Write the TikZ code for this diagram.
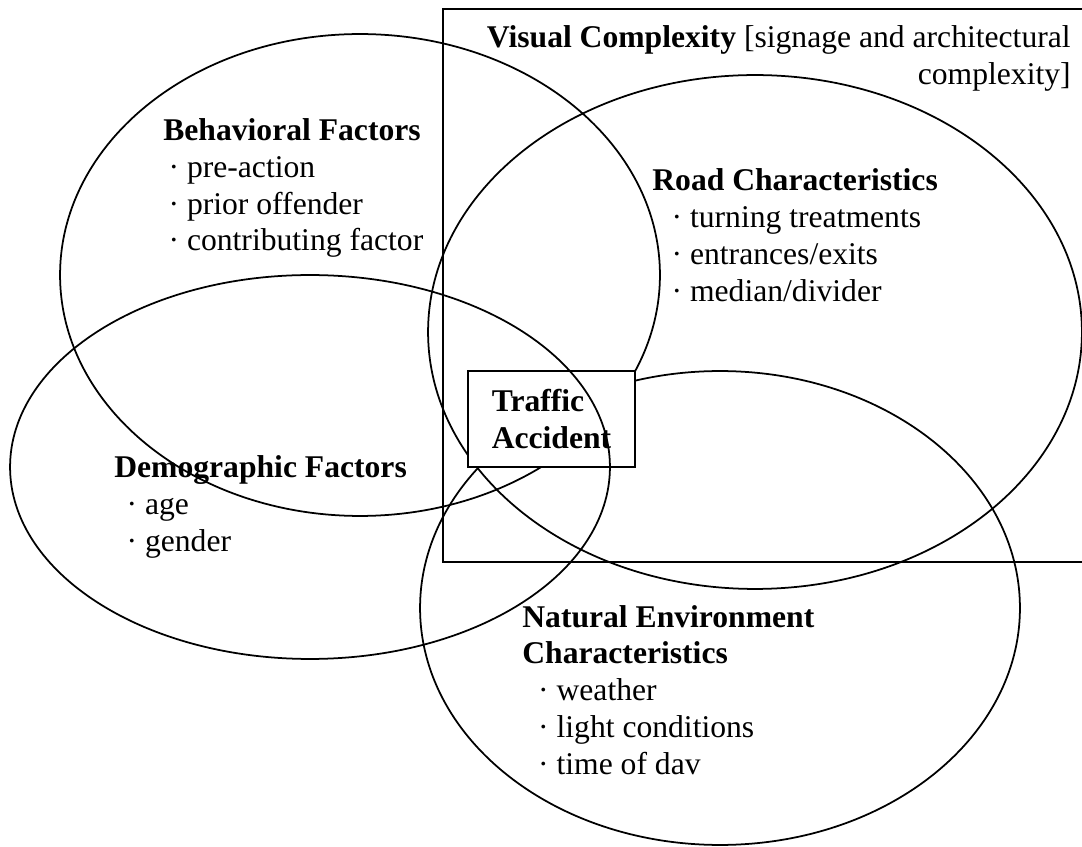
\documentclass[tikz,border=0pt]{standalone}
\usepackage{fontspec}
\setmainfont{Liberation Serif}
\usepackage{tikz}
\usetikzlibrary{shapes.geometric}

\begin{document}
\begin{tikzpicture}[x=0.02cm, y=-0.02cm, font=\fontsize{18}{21}\selectfont]
                \tikzstyle{venn} = [ellipse, draw=black, line width=1pt, inner sep=0pt]
                \tikzstyle{factor} = [anchor=west, align=left, inner sep=0pt]
                \tikzstyle{hub} = [rectangle, draw=black, line width=1.3pt, fill=white, minimum width=3.34cm, minimum height=1.92cm, align=left, font=\fontsize{18}{21}\selectfont\bfseries]
                \useasboundingbox (0,0) rectangle (1082,847);

                % outer frame and the overlapping sets
                \node (visual) [rectangle, draw=black, line width=1pt, minimum width=13.3cm, minimum height=11.06cm, inner sep=0pt] at (775.5,285.5) {};
                \node (behav) [venn, minimum width=12cm, minimum height=9.64cm] at (360,275) {};
                \node (road) [venn, minimum width=13.08cm, minimum height=10.28cm] at (755,332) {};
                \node (natural) [venn, minimum width=12cm, minimum height=9.48cm] at (720,608) {};
                \node (accident) [hub] at (551.5,419) {Traffic\\Accident};
                \node (demo) [venn, minimum width=12cm, minimum height=7.68cm] at (310,467) {};

                % labels
                \node (visuallabel) [anchor=east, align=right, inner sep=0pt] at (1071,58) {\textbf{Visual Complexity} [signage and architectural\\complexity]};
                \node (behavlabel) [factor] at (163,188) {\textbf{Behavioral Factors}\\\hspace{3pt}· pre-action\\\hspace{3pt}· prior offender\\\hspace{3pt}· contributing factor};
                \node (roadlabel) [factor] at (652,235) {\textbf{Road Characteristics}\\\hspace{11pt}· turning treatments\\\hspace{11pt}· entrances/exits\\\hspace{11pt}· median/divider};
                \node (demolabel) [factor] at (114,507) {\textbf{Demographic Factors}\\\hspace{7pt}· age\\\hspace{7pt}· gender};
                \node (naturallabel) [factor] at (522,690) {\textbf{Natural Environment}\\\textbf{Characteristics}\\\hspace{9pt}· weather\\\hspace{9pt}· light conditions\\\hspace{9pt}· time of dav};
            \end{tikzpicture}
\end{document}
